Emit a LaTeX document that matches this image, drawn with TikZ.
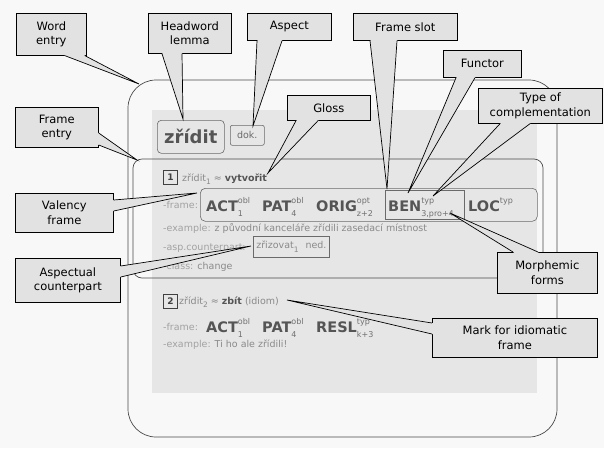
\documentclass[tikz,border=0pt]{standalone}
\usepackage{fontspec}
\setmainfont{DejaVu Sans}
\usetikzlibrary{calc}
\definecolor{bgc}{HTML}{F8F8F8}
\definecolor{regc}{HTML}{E6E6E6}
\definecolor{callfill}{HTML}{E2E2E2}
\definecolor{outc}{HTML}{4A4A4A}
\definecolor{slotc}{HTML}{555555}
\definecolor{subc}{HTML}{707070}
\definecolor{lblc}{HTML}{A2A2A2}
\definecolor{txtc}{HTML}{8A8A8A}
\definecolor{boxc}{HTML}{6A6A6A}
\newcommand\vsl[3]{#1{\fontsize{8}{8}\selectfont\mdseries\color{subc}\rlap{\raisebox{8pt}{#2}}\raisebox{-5pt}{#3}}}
\newcommand\lsub[1]{\raisebox{-3.5pt}{\fontsize{7.5}{7.5}\selectfont #1}}
\newcommand\callptr[4]{%
  \fill[callfill] ($(#2)!1.5pt!(#1.center)$) -- (#2) -- (#4) -- (#3) -- ($(#3)!1.5pt!(#1.center)$) -- cycle;
  \draw[callline] (#2) -- (#4) -- (#3);}
\tikzset{
  calloutbox/.style={draw=black, line width=0.7pt, fill=callfill, align=center, inner sep=0pt,
    anchor=north west, font=\fontsize{11.5}{14.5}\selectfont, text=black},
  callline/.style={draw=black, line width=0.7pt, line join=miter},
  smalltxt/.style={anchor=base west, inner sep=0pt, font=\fontsize{9.5}{11}\selectfont, text=lblc},
  linetxt/.style={anchor=base west, inner sep=0pt, font=\fontsize{9.5}{11}\selectfont, text=txtc},
  slottxt/.style={anchor=base west, inner sep=0pt, font=\fontsize{14.5}{14.5}\selectfont\bfseries, text=slotc},
  numbox/.style={draw=black!75, line width=0.8pt, minimum width=14, minimum height=14, anchor=north west,
    inner sep=0pt, font=\fontsize{9}{9}\selectfont\bfseries, text=black!75},
  greybox/.style={draw=boxc, line width=0.6pt, anchor=north west, inner sep=0pt},
}
\begin{document}
\begin{tikzpicture}[x=1pt, y=-1pt]
\fill[bgc] (0,0) rectangle (604,448);
\path[use as bounding box] (0,0) rectangle (604,448);

% word entry box, grey region, frame entry box
\draw[outc, line width=0.7pt, rounded corners=28pt] (128,80) rectangle (557,437);
\fill[regc] (152,110) rectangle (537,393);
\draw[outc, line width=0.7pt, rounded corners=9pt] (133,159) rectangle (543,278);

% headword and aspect
\node[greybox, rounded corners=4pt, minimum width=67, minimum height=33,
  font=\fontsize{18}{18}\selectfont\bfseries, text=slotc] (hw) at (157,120) {zřídit};
\node[greybox, rounded corners=2pt, minimum width=34, minimum height=20,
  font=\fontsize{9.5}{10}\selectfont, text=boxc] (dok) at (230,125) {dok.};

% frame 1
\node[numbox] (n1) at (163,170) {1};
\node[linetxt] (l1) at (182,181) {zřídit\lsub{1}\hspace{3pt}≈ \textbf{\textcolor{slotc}{vytvořit}}};
\node[greybox, rounded corners=5pt, minimum width=337, minimum height=33] (valbox) at (200,188) {};
\node[greybox, minimum width=79, minimum height=29] (benbox) at (385,190) {};
\node[smalltxt] (fr1) at (163,208) {-frame:};
\node[slottxt] (act1) at (206,211) {\vsl{ACT}{obl}{1}};
\node[slottxt] (pat1) at (262,211) {\vsl{PAT}{obl}{4}};
\node[slottxt] (orig1) at (316,211) {\vsl{ORIG}{opt}{z+2}};
\node[slottxt] (ben1) at (388,211) {\vsl{BEN}{typ}{3,pro+4}};
\node[slottxt] (loc1) at (468,211) {\vsl{LOC}{typ}{}};
\node[smalltxt, text=txtc] (ex1) at (163,231) {\textcolor{lblc}{-example:} z původní kanceláře zřídili zasedací místnost};
\node[smalltxt] (asp1) at (163,250) {-asp.counterpart:};
\node[greybox, anchor=west, inner xsep=3pt, minimum height=21, font=\fontsize{9.5}{11}\selectfont, text=txtc]
  (acbox) at (253,246.5) {zřizovat\lsub{1}\hspace{4pt} ned.};
\node[smalltxt, text=txtc] (cl1) at (163,269) {\textcolor{lblc}{-class:} change};

% frame 2
\node[numbox] (n2) at (163,294) {2};
\node[linetxt] (l2) at (179,304) {zřídit\lsub{2}\hspace{3pt}≈ \textbf{\textcolor{slotc}{zbít}} (idiom)};
\node[smalltxt] (fr2) at (163,330) {-frame:};
\node[slottxt] (act2) at (206,332) {\vsl{ACT}{obl}{1}};
\node[slottxt] (pat2) at (262,332) {\vsl{PAT}{obl}{4}};
\node[slottxt] (resl2) at (316,332) {\vsl{RESL}{typ}{k+3}};
\node[smalltxt, text=txtc] (ex2) at (163,347) {\textcolor{lblc}{-example:} Ti ho ale zřídili!};

% callout boxes
\node[calloutbox, minimum width=70, minimum height=42] (we) at (16,13) {Word\\entry};
\node[calloutbox, minimum width=83, minimum height=40] (hl) at (148,13) {Headword\\lemma};
\node[calloutbox, minimum width=84, minimum height=27] (as) at (247,13) {Aspect};
\node[calloutbox, minimum width=104, minimum height=27] (fs) at (353,13) {Frame slot};
\node[calloutbox, minimum width=78, minimum height=27] (fn) at (443,50) {Functor};
\node[calloutbox, minimum width=124, minimum height=35] (tc) at (478,88) {Type of\\complementation};
\node[calloutbox, minimum width=83, minimum height=25] (gl) at (287,95) {Gloss};
\node[calloutbox, minimum width=83, minimum height=40] (fe) at (15,107) {Frame\\entry};
\node[calloutbox, minimum width=98, minimum height=39] (vf) at (15,193) {Valency\\frame};
\node[calloutbox, minimum width=105, minimum height=44] (ac) at (15,258) {Aspectual\\counterpart};
\node[calloutbox, minimum width=100, minimum height=41] (mf) at (497,252) {Morphemic\\forms};
\node[calloutbox, minimum width=165, minimum height=39] (mi) at (432,318) {Mark for idiomatic\\frame};

% pointer tips
\coordinate (t-we) at (139,84);
\coordinate (t-hl) at (183,119);
\coordinate (t-as) at (253,126);
\coordinate (t-fs) at (387,189);
\coordinate (t-fn) at (408,193);
\coordinate (t-tc) at (433,196);
\coordinate (t-gl) at (268,173);
\coordinate (t-fe) at (137,160);
\coordinate (t-vf) at (197,193);
\coordinate (t-ac) at (251,246);
\coordinate (t-mf) at (450,213);
\coordinate (t-mi) at (287,300);

% pointer bases
\coordinate (we-a) at ($(we.south west)+(49,0)$);
\coordinate (we-b) at ($(we.south west)+(69,0)$);
\coordinate (hl-a) at ($(hl.south west)+(14,0)$);
\coordinate (hl-b) at ($(hl.south west)+(34,0)$);
\coordinate (as-a) at ($(as.south west)+(10,0)$);
\coordinate (as-b) at ($(as.south west)+(35,0)$);
\coordinate (fs-a) at ($(fs.south west)+(17,0)$);
\coordinate (fs-b) at ($(fs.south west)+(44,0)$);
\coordinate (fn-a) at ($(fn.south west)+(13,0)$);
\coordinate (fn-b) at ($(fn.south west)+(32,0)$);
\coordinate (tc-a) at ($(tc.south west)+(22,0)$);
\coordinate (tc-b) at ($(tc.south west)+(52,0)$);
\coordinate (gl-a) at ($(gl.south west)+(9,0)$);
\coordinate (gl-b) at ($(gl.south west)+(31,0)$);
\coordinate (fe-a) at ($(fe.north east)+(0,26)$);
\coordinate (fe-b) at ($(fe.north east)+(0,38)$);
\coordinate (vf-a) at ($(vf.north east)+(0,7)$);
\coordinate (vf-b) at ($(vf.north east)+(0,18)$);
\coordinate (ac-a) at ($(ac.north east)+(0,8)$);
\coordinate (ac-b) at ($(ac.north east)+(0,19)$);
\coordinate (mf-a) at ($(mf.north west)+(16,0)$);
\coordinate (mf-b) at ($(mf.north west)+(41,0)$);
\coordinate (mi-a) at ($(mi.north west)+(0,5)$);
\coordinate (mi-b) at ($(mi.north west)+(0,16)$);

\callptr{we}{we-a}{we-b}{t-we}
\callptr{hl}{hl-a}{hl-b}{t-hl}
\callptr{as}{as-a}{as-b}{t-as}
\callptr{fs}{fs-a}{fs-b}{t-fs}
\callptr{fn}{fn-a}{fn-b}{t-fn}
\callptr{tc}{tc-a}{tc-b}{t-tc}
\callptr{gl}{gl-a}{gl-b}{t-gl}
\callptr{fe}{fe-a}{fe-b}{t-fe}
\callptr{vf}{vf-a}{vf-b}{t-vf}
\callptr{ac}{ac-a}{ac-b}{t-ac}
\callptr{mf}{mf-a}{mf-b}{t-mf}
\callptr{mi}{mi-a}{mi-b}{t-mi}
\end{tikzpicture}
\end{document}
